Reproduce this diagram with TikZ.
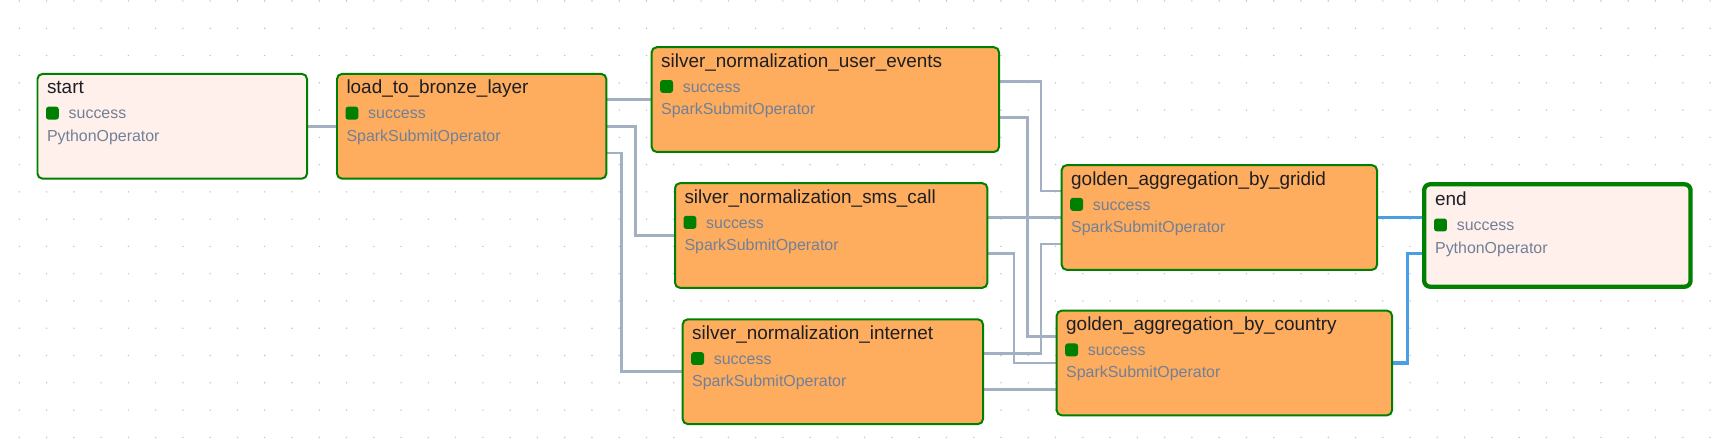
\documentclass[tikz,border=0pt]{standalone}
\usepackage{fontspec}
\setmainfont{Liberation Sans}
\usetikzlibrary{calc,backgrounds}
\definecolor{okgreen}{HTML}{008000}
\definecolor{sparkfill}{HTML}{FEAC5E}
\definecolor{pyfill}{HTML}{FFF0EC}
\definecolor{edgegray}{HTML}{A3AFC2}
\definecolor{edgeblue}{HTML}{4A9EE3}
\definecolor{ttlc}{HTML}{1C1F24}
\definecolor{subc}{HTML}{718096}
\definecolor{dotc}{HTML}{C2C2C8}
\tikzset{
  box/.style={draw=okgreen, line width=2pt, rounded corners=5pt, inner sep=0pt, minimum height=104.7bp},
  endbox/.style={draw=okgreen, line width=4.3pt, rounded corners=6pt, inner sep=0pt, minimum height=102.4bp},
  ttl/.style={inner sep=0pt, anchor=base west, text=ttlc, font=\fontsize{19}{22}\selectfont},
  sub/.style={inner sep=0pt, anchor=base west, text=subc, font=\fontsize{16}{19}\selectfont},
  sq/.style={inner sep=0pt, anchor=north west, fill=okgreen, minimum size=12.8bp, rounded corners=2.5pt},
  edge/.style={draw=edgegray, line width=2.5pt},
  bedge/.style={draw=edgeblue, line width=3.3pt},
}
% name, xc, yc, inner width, style, title, operator, extra offset
\newcommand\mytask[8]{%
  \node[#5, minimum width=#4bp] (#1) at (#2,#3) {};
  \node[ttl] (#1-t) at ($(#1.north west)+(10.3+#8,21+#8)$) {#6};
  \node[sq] (#1-s) at ($(#1.north west)+(9.3+#8,33.6+#8)$) {};
  \node[sub] (#1-st) at ($(#1.north west)+(32+#8,46+#8)$) {success};
  \node[sub] (#1-op) at ($(#1.north west)+(10.3+#8,68.3+#8)$) {#7};
}
\begin{document}
\begin{tikzpicture}[x=1bp,y=-1bp]
\useasboundingbox (0,0) rectangle (1716,448);

\mytask{start}{172.25}{126.3}{269.5}{box,fill=pyfill}{start}{PythonOperator}{0}
\mytask{load}{471.65}{126.3}{269.3}{box,fill=sparkfill}{load\_to\_bronze\_layer}{SparkSubmitOperator}{0}
\mytask{ue}{825.35}{99.6}{347.3}{box,fill=sparkfill}{silver\_normalization\_user\_events}{SparkSubmitOperator}{0}
\mytask{sms}{831.15}{235.5}{312.3}{box,fill=sparkfill}{silver\_normalization\_sms\_call}{SparkSubmitOperator}{0}
\mytask{inet}{832.85}{371.7}{300.3}{box,fill=sparkfill}{silver\_normalization\_internet}{SparkSubmitOperator}{0}
\mytask{grid}{1219.35}{217.5}{315.3}{box,fill=sparkfill}{golden\_aggregation\_by\_gridid}{SparkSubmitOperator}{0}
\mytask{country}{1224.35}{363}{335.3}{box,fill=sparkfill}{golden\_aggregation\_by\_country}{SparkSubmitOperator}{0}
\mytask{end}{1557.35}{235.5}{266.4}{endbox,fill=pyfill}{end}{PythonOperator}{2.6}

\begin{scope}[on background layer]
  \fill[white] (0,0) rectangle (1716,448);
  \foreach \i in {0,...,62} {
    \foreach \j in {0,...,16} {
      \fill[dotc] (19.3+27.27*\i, 1+27.27*\j) circle (0.8);
    }
  }
  \draw[edge] (start.east) -- (load.west);
  \draw[edge] ($(load.east)+(0,-26.7)$) -- (ue.west);
  \draw[edge] (load.east) -- ++(28.4,0) |- (sms.west);
  \draw[edge] ($(load.east)+(0,26.7)$) -- ++(14.4,0) |- (inet.west);
  \draw[edge] ($(ue.east)+(0,-18)$) -- ++(41,0) |- ($(grid.west)+(0,-26.7)$);
  \draw[edge] ($(ue.east)+(0,18)$) -- ++(27.5,0) |- ($(country.west)+(0,-26.7)$);
  \draw[edge] ($(sms.east)+(0,-18)$) -- (grid.west);
  \draw[edge] ($(sms.east)+(0,18)$) -- ++(25.7,0) |- (country.west);
  \draw[edge] ($(inet.east)+(0,-18)$) -- ++(57,0) |- ($(grid.west)+(0,26.7)$);
  \draw[edge] ($(inet.east)+(0,18)$) -- ($(country.west)+(0,26.7)$);
  \draw[bedge] (grid.east) -- ($(end.west)+(0,-18)$);
  \draw[bedge] (country.east) -- ++(14.5,0) |- ($(end.west)+(0,18)$);
\end{scope}
\end{tikzpicture}
\end{document}
